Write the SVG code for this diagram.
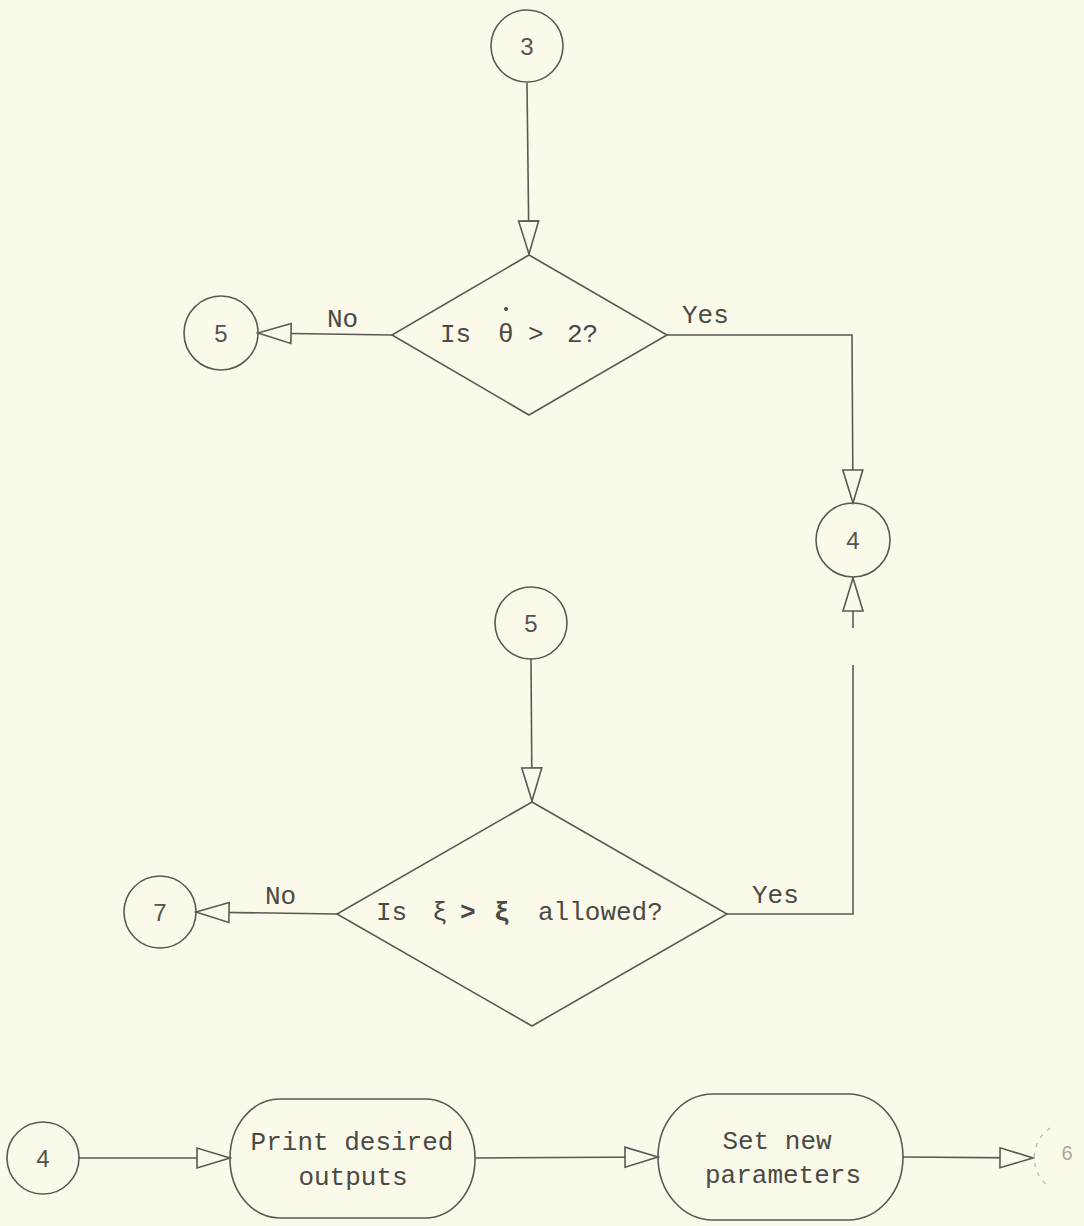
<svg xmlns="http://www.w3.org/2000/svg" width="1084" height="1226" viewBox="0 0 1084 1226">
  <style>
    .shape { fill: none; stroke: #5a5a55; stroke-width: 1.6; }
    .conn { fill: none; stroke: #5a5a55; stroke-width: 1.6; }
    .txt { font-family: "Liberation Mono", "DejaVu Sans Mono", monospace; font-size: 26px; fill: #4a4a45; }
    .num { font-family: "Liberation Sans", "DejaVu Sans", sans-serif; font-size: 24px; fill: #55554f; text-anchor: middle; }
  </style>
  <defs>
    <marker id="open-arrow" markerUnits="userSpaceOnUse" viewBox="-36 -12 38 24" refX="0" refY="0" markerWidth="38" markerHeight="24" orient="auto">
      <path d="M0,0 L-33,-10 L-33,10 Z" fill="#fbf9ea" stroke="#5a5a55" stroke-width="1.6" stroke-linejoin="miter"/>
    </marker>
  </defs>

  <rect width="1084" height="1226" fill="#fbf9ea"/>

  <g id="connectors">
    <path class="conn" d="M527,83 L529,254" marker-end="url(#open-arrow)"/>
    <path class="conn" d="M392,335 L258,333" marker-end="url(#open-arrow)"/>
    <path class="conn" d="M667,335 L852,335 L853,503" marker-end="url(#open-arrow)"/>
    <path class="conn" d="M531,659 L532,801" marker-end="url(#open-arrow)"/>
    <path class="conn" d="M337,914 L196,912" marker-end="url(#open-arrow)"/>
    <path class="conn" d="M727,914 L853,914 L853,665"/>
    <path class="conn" d="M853,628 L853,578" marker-end="url(#open-arrow)"/>
    <path class="conn" d="M79,1158 L230,1158" marker-end="url(#open-arrow)"/>
    <path class="conn" d="M475,1158 L658,1157" marker-end="url(#open-arrow)"/>
    <path class="conn" d="M903,1157 L1033,1158" marker-end="url(#open-arrow)"/>
    <text class="txt" x="327" y="327">No</text>
    <text class="txt" x="682" y="323">Yes</text>
    <text class="txt" x="265" y="904">No</text>
    <text class="txt" x="752" y="903">Yes</text>
  </g>

  <g id="c3">
    <circle class="shape" cx="527" cy="46" r="36"/>
    <text class="num" x="527" y="55">3</text>
  </g>

  <g id="d1">
    <polygon class="shape" points="529,255 667,335 529,415 392,335"/>
    <text class="txt" y="342"><tspan x="440">Is</tspan><tspan x="498">θ</tspan><tspan x="528">&gt;</tspan><tspan x="567">2?</tspan></text>
    <circle cx="506" cy="309" r="2" fill="#4a4a45"/>
  </g>

  <g id="c5a">
    <circle class="shape" cx="221" cy="333" r="37"/>
    <text class="num" x="221" y="342">5</text>
  </g>

  <g id="c4a">
    <circle class="shape" cx="853" cy="540" r="37"/>
    <text class="num" x="853" y="549">4</text>
  </g>

  <g id="c5b">
    <circle class="shape" cx="531" cy="623" r="36"/>
    <text class="num" x="531" y="632">5</text>
  </g>

  <g id="d2">
    <polygon class="shape" points="532,802 727,914 532,1026 337,914"/>
    <text class="txt" y="920"><tspan x="376">Is</tspan><tspan x="432">ξ</tspan><tspan x="460" font-weight="bold">&gt;</tspan><tspan x="494" font-weight="bold">ξ</tspan><tspan x="538">allowed?</tspan></text>
  </g>

  <g id="c7">
    <circle class="shape" cx="160" cy="912" r="36"/>
    <text class="num" x="160" y="921">7</text>
  </g>

  <g id="c4b">
    <circle class="shape" cx="43" cy="1158" r="36"/>
    <text class="num" x="43" y="1167">4</text>
  </g>

  <g id="print">
    <rect class="shape" x="230" y="1099" width="245" height="119" rx="50" ry="59"/>
    <text class="txt" x="352" y="1150" text-anchor="middle">Print desired</text>
    <text class="txt" x="353" y="1185" text-anchor="middle">outputs</text>
  </g>

  <g id="setparams">
    <rect class="shape" x="658" y="1094" width="245" height="126" rx="55" ry="63"/>
    <text class="txt" x="777" y="1149" text-anchor="middle">Set new</text>
    <text class="txt" x="783" y="1183" text-anchor="middle">parameters</text>
  </g>

  <g id="c6">
    <path d="M1050,1128 A36,36 0 0,0 1048,1186" fill="none" stroke="#b5b3a8" stroke-width="1.2" stroke-dasharray="4 6"/>
    <text x="1067" y="1160" font-family="Liberation Sans, DejaVu Sans, sans-serif" font-size="20" fill="#a9a79c" text-anchor="middle">6</text>
  </g>
</svg>
